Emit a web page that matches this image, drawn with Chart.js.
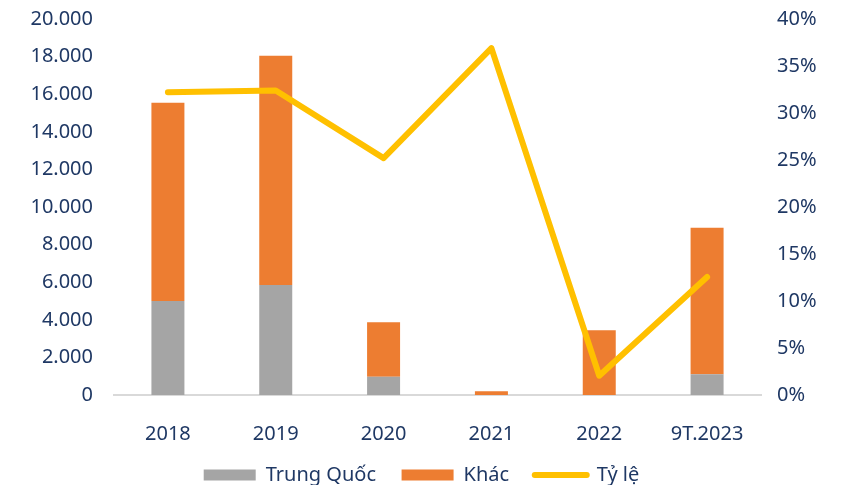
<!DOCTYPE html>
<html>
<head>
<meta charset="utf-8">
<script src="https://cdn.jsdelivr.net/npm/chart.js@4/dist/chart.umd.min.js"></script>
<style>
  html, body { margin: 0; padding: 0; background: #fff; }
  #wrap { width: 843px; height: 485px; position: relative; }
</style>
</head>
<body>
<div id="wrap"><canvas id="importChart"></canvas></div>
<script>
// Categories and series
const years = ["2018", "2019", "2020", "2021", "2022", "9T.2023"];
const trungQuoc = [5000, 5850, 970, 0, 0, 1100];
const khac = [10550, 12200, 2900, 200, 3450, 7800];
const tyLe = [0.322, 0.324, 0.252, 0.369, 0.0205, 0.1255];

const leftTicks = [0, 2000, 4000, 6000, 8000, 10000, 12000, 14000, 16000, 18000, 20000];
const rightTicks = [0, 0.05, 0.10, 0.15, 0.20, 0.25, 0.30, 0.35, 0.40];

const textColor = "#1F3864";
const fontFamily = "'Noto Sans', sans-serif";

// 20000 -> "20.000"
function fmtThousands(v) {
    return String(v).replace(/\B(?=(\d{3})+(?!\d))/g, ".");
}

// fixed axis width, and no extra top/bottom padding from the tick labels
function fixAxis(width) {
    return function (scale) {
        scale.width = width;
        scale.paddingTop = 0;
        scale.paddingBottom = 0;
    };
}

const ctx = document.getElementById("importChart").getContext("2d");

new Chart(ctx, {
    type: "bar",
    data: {
        labels: years,
        datasets: [
            {
                label: "Trung Quốc",
                data: trungQuoc,
                backgroundColor: "#A5A5A5",
                stack: "s",
                yAxisID: "y",
                order: 1
            },
            {
                label: "Khác",
                data: khac,
                backgroundColor: "#ED7D31",
                stack: "s",
                yAxisID: "y",
                order: 1
            },
            {
                type: "line",
                label: "Tỷ lệ",
                data: tyLe,
                borderColor: "#FFC000",
                backgroundColor: "#FFC000",
                borderWidth: 6,
                borderCapStyle: "round",
                borderJoinStyle: "round",
                pointRadius: 0,
                tension: 0,
                yAxisID: "y1",
                order: 0
            }
        ]
    },
    options: {
        responsive: true,
        maintainAspectRatio: false,
        animation: false,
        layout: { padding: { top: 19, bottom: 0, left: 0, right: 0 } },
        datasets: {
            bar: { categoryPercentage: 1, barPercentage: 0.306 }
        },
        plugins: {
            tooltip: { enabled: false },
            legend: {
                position: "bottom",
                maxHeight: 30,
                labels: {
                    color: textColor,
                    font: { family: fontFamily, size: 20 },
                    usePointStyle: true,
                    pointStyleWidth: 52,
                    boxHeight: 11,
                    padding: 10,
                    generateLabels: function (chart) {
                        const last = chart.data.datasets.length - 1;
                        return chart.data.datasets.map((ds, i) => ({
                            // trailing spaces widen the gap to the next item
                            text: i < last ? ds.label + "   " : ds.label,
                            fillStyle: ds.type === "line" ? ds.borderColor : ds.backgroundColor,
                            strokeStyle: ds.type === "line" ? ds.borderColor : ds.backgroundColor,
                            lineWidth: ds.type === "line" ? 6 : 0,
                            lineCap: "round",
                            pointStyle: ds.type === "line" ? "line" : "rect",
                            fontColor: textColor,
                            hidden: false,
                            datasetIndex: i
                        }));
                    }
                }
            }
        },
        scales: {
            x: {
                stacked: true,
                grid: { display: false, drawTicks: false },
                border: { display: true, color: "#D9D9D9", width: 2 },
                ticks: {
                    color: textColor,
                    font: { family: fontFamily, size: 20 },
                    padding: 27,
                    maxRotation: 0
                },
                afterFit: function (scale) { scale.height = 60; }
            },
            y: {
                stacked: true,
                position: "left",
                min: 0,
                max: 20000,
                grid: { display: false, drawTicks: false },
                border: { display: false },
                afterBuildTicks: function (scale) {
                    scale.ticks = leftTicks.map(v => ({ value: v }));
                },
                ticks: {
                    color: textColor,
                    font: { family: fontFamily, size: 20 },
                    padding: 21,
                    callback: v => fmtThousands(v)
                },
                afterFit: fixAxis(114)
            },
            y1: {
                position: "right",
                min: 0,
                max: 0.4,
                grid: { display: false, drawTicks: false },
                border: { display: false },
                afterBuildTicks: function (scale) {
                    scale.ticks = rightTicks.map(v => ({ value: v }));
                },
                ticks: {
                    color: textColor,
                    font: { family: fontFamily, size: 20 },
                    padding: 16,
                    callback: v => Math.round(v * 100) + "%"
                },
                afterFit: fixAxis(82)
            }
        }
    }
});
</script>
</body>
</html>
